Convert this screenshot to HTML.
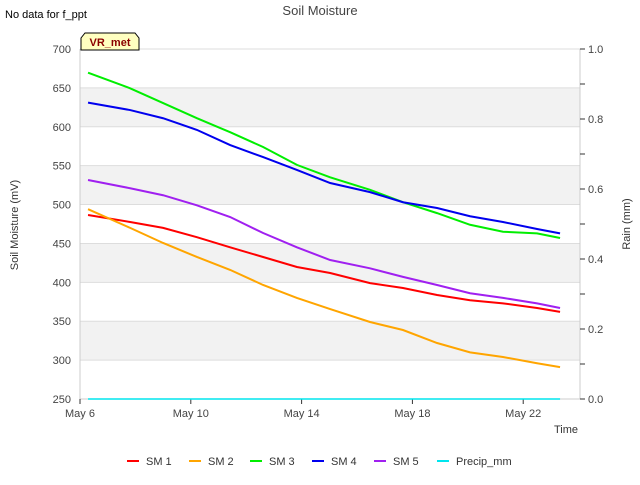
<!DOCTYPE html>
<html><head><meta charset="utf-8"><style>
body{margin:0;width:640px;height:480px;background:#fff;font-family:"Liberation Sans","DejaVu Sans",sans-serif;overflow:hidden}
</style></head><body>
<svg id="c" width="640" height="480" xmlns="http://www.w3.org/2000/svg">
<text x="5" y="18" font-size="11" fill="#000">No data for f_ppt</text>
<text x="320" y="15" font-size="13" fill="#444" text-anchor="middle">Soil Moisture</text>
<g id="plot"></g>
<text x="18" y="225" font-size="11" fill="#333" text-anchor="middle" transform="rotate(-90 18 225)">Soil Moisture (mV)</text>
<text x="630" y="224" font-size="11" fill="#333" text-anchor="middle" transform="rotate(-90 630 224)">Rain (mm)</text>
<text x="578" y="433" font-size="11" fill="#333" text-anchor="end">Time</text>
<g>
<path d="M81,50 L81,38 L85,33 L135,33 L139,38 L139,50 Z" fill="#ffffc0" stroke="#000" stroke-width="1"/>
<text x="110" y="46" font-size="11" font-weight="bold" fill="#8b0000" text-anchor="middle">VR_met</text>
</g>
<g id="legend"></g>
</svg>
<script>
const days=[6.29,7.81,9.0,10.22,11.42,12.61,13.83,15.03,16.47,17.66,18.89,20.08,21.27,22.5,23.33];
const sm1=[486.6,477.6,470,458,445,432.6,419.7,412,399,392.7,383.7,377,373,367,362];
const sm2=[494,470,450.6,432.6,416,396.6,380,365.7,349,338.7,322,310,304,296,291];
const sm3=[669.5,649.5,630.5,611,593,574,551,535,519,503,489,474,465,463,457];
const sm4=[631,621.5,611,596,576.5,561,544.5,527.7,516,503,495.6,485,477.6,468.6,463];
const sm5=[531.6,521,512,499,484,463.4,445,428.7,418,407,396.6,386,380,373,367];
const precip=[0,0,0,0,0,0,0,0,0,0,0,0,0,0,0];
const leftTicks=[250,300,350,400,450,500,550,600,650,700];
const rightTicks=["0.0","0.2","0.4","0.6","0.8","1.0"];
const xTicks=[6,10,14,18,22];
const xTickLabels=["May 6","May 10","May 14","May 18","May 22"];
const names=["SM 1","SM 2","SM 3","SM 4","SM 5","Precip_mm"];
const colors=["#ff0000","#ffa500","#00ee00","#0000ee","#a020f0","#00e5ee"];
const L=80,R=580,T=49,B=399;
const xs=d=>L+(d-6)*(R-L)/18.05;
const ys=v=>B-(v-250)*(B-T)/450;
const yr=v=>B-v*(B-T);
const NS="http://www.w3.org/2000/svg";
const plot=document.getElementById('plot');
function mk(tag,attrs,parent){const e=document.createElementNS(NS,tag);for(const k in attrs)e.setAttribute(k,attrs[k]);parent.appendChild(e);return e;}
for(let i=0;i<leftTicks.length-1;i++){
 if(i%2==1){const r=mk('rect',{x:L,y:ys(leftTicks[i+1]),width:R-L,height:ys(leftTicks[i])-ys(leftTicks[i+1]),fill:'#f2f2f2'},plot);
 
 }
}
leftTicks.forEach(v=>{
 const l=mk('line',{x1:L,x2:R,y1:ys(v),y2:ys(v),stroke:'#ddd'},plot);
 
 
 const t=mk('text',{x:L-9,y:ys(v)+4,'font-size':11,fill:'#444','text-anchor':'end'},plot);t.textContent=v;
 
 
});
mk('line',{x1:L,x2:L,y1:T,y2:B,stroke:'#ccc'},plot);
mk('line',{x1:R,x2:R,y1:T,y2:B,stroke:'#ccc'},plot);
mk('line',{x1:L,x2:R,y1:B,y2:B,stroke:'#ccc'},plot);
for(let i=0;i<=10;i++){mk('line',{x1:R,x2:R+5,y1:yr(i/10),y2:yr(i/10),stroke:'#333'},plot);}
rightTicks.forEach(s=>{
 const t=mk('text',{x:R+8,y:yr(parseFloat(s))+4,'font-size':11,fill:'#444'},plot);t.textContent=s;
 
 
});
xTicks.forEach((d,i)=>{
 mk('line',{x1:xs(d),x2:xs(d),y1:B,y2:B+5,stroke:'#333'},plot);
 const t=mk('text',{x:xs(d),y:B+18,'font-size':11,fill:'#444','text-anchor':'middle'},plot);t.textContent=xTickLabels[i];
 
 
});
const series=[sm1,sm2,sm3,sm4,sm5];
series.forEach((s,k)=>{
 const p=mk('polyline',{points:s.map((v,i)=>xs(days[i])+','+ys(v)).join(' '),fill:'none',stroke:colors[k],'stroke-width':2},plot);
 
 
});
const pp=mk('polyline',{points:precip.map((v,i)=>xs(days[i])+','+yr(v)).join(' '),fill:'none',stroke:colors[5],'stroke-width':1.5},plot);


const lg=document.getElementById('legend');
const lx=[127,189,250,312,374,437];
names.forEach((n,i)=>{
 const g=mk('g',{},lg);
 
 
 mk('line',{x1:lx[i],x2:lx[i]+12,y1:461,y2:461,stroke:colors[i],'stroke-width':2},g);
 const t=mk('text',{x:lx[i]+19,y:465,'font-size':11,fill:'#333'},g);t.textContent=n;
});
</script>
</body></html>
